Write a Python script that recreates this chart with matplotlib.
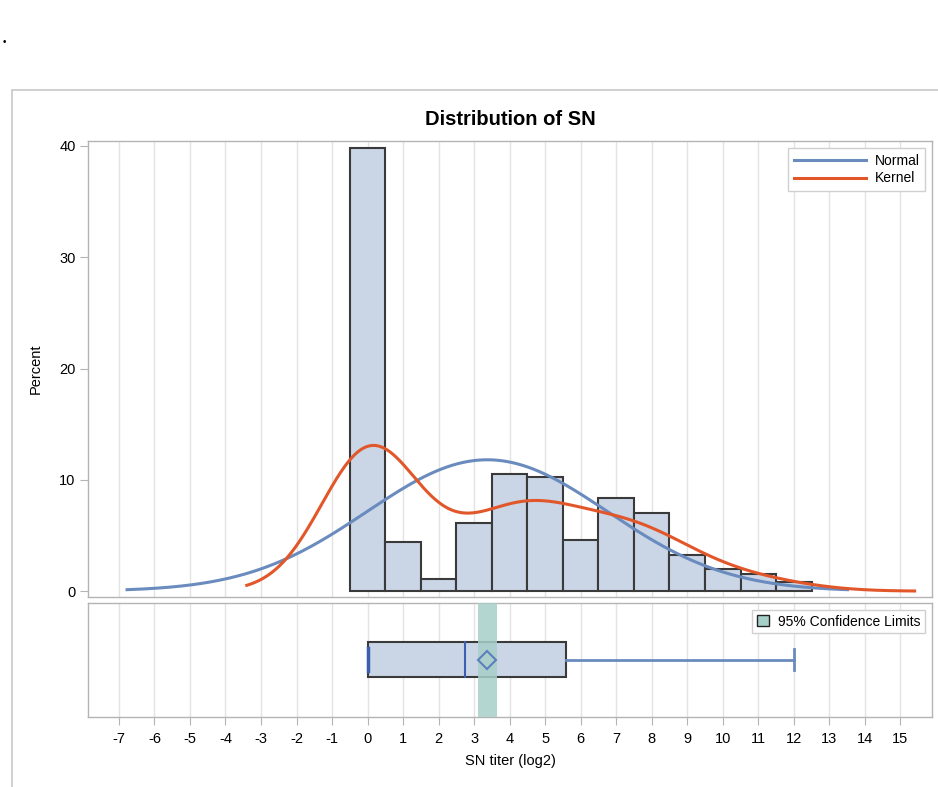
import numpy as np
import matplotlib
matplotlib.use("Agg")
import matplotlib.pyplot as plt
from matplotlib.patches import Rectangle, Patch

# ---------------- data ----------------
bin_centers = [0, 1, 2, 3, 4, 5, 6, 7, 8, 9, 10, 11, 12]
bin_percent = [39.8, 4.4, 1.1, 6.1, 10.5, 10.3, 4.55, 8.4, 7.05, 3.25, 1.95, 1.5, 0.8]
bin_width = 1.0

normal_mean = 3.37
normal_sd = 3.38
kernel_bw = 1.36

box_min = 0.0
box_q1 = 0.0
box_median = 2.75
box_q3 = 5.58
box_max = 12.0
box_mean = 3.37
ci_low, ci_high = 3.10, 3.65

x_ticks = list(range(-7, 16))
y_ticks = [0, 10, 20, 30, 40]

title = "Distribution of SN"
xlabel = "SN titer (log2)"
ylabel = "Percent"

# ---------------- style ----------------
W, H = 938, 787
DPI = 100
FONT = ["Liberation Sans", "DejaVu Sans"]
plt.rcParams["font.family"] = FONT
plt.rcParams["axes.unicode_minus"] = False
SPINE = "#b4b4b4"
GRID = "#e3e3e3"
BAR_FILL = "#cad5e6"
BAR_EDGE = "#3a3a3a"
BLUE = "#6a8bbd"
ORANGE = "#e2572a"
BAND = "#a7cfc9"
DARKBLUE = "#3c5fb0"

fig = plt.figure(figsize=(W / DPI, H / DPI), dpi=DPI)

def px_axes(left, top, right, bottom):
    return fig.add_axes([left / W, (H - bottom) / H, (right - left) / W, (bottom - top) / H])

# outer frame
fig.patches.append(Rectangle((12 / W, -0.1), 1.2, (H - 90) / H + 0.1,
                             transform=fig.transFigure, fill=False,
                             edgecolor="#c8c8c8", linewidth=1.2))
fig.text(3 / W, (H - 42) / H, "\u2022", fontsize=7, color="black", ha="left", va="center")

xlim = (-7.87, 15.89)

ax = px_axes(88, 141.5, 932, 596.7)
axb = px_axes(88, 602.7, 932, 716.7)

for a in (ax, axb):
    a.set_xlim(*xlim)
    for s in a.spines.values():
        s.set_color(SPINE)
        s.set_linewidth(1.0)
    a.set_xticks(x_ticks)
    a.grid(axis="x", color=GRID, linewidth=1.0, zorder=0)
    a.set_axisbelow(True)

# ---------- top panel: histogram ----------
ax.set_ylim(-0.5, 40.4)
ax.bar(bin_centers, bin_percent, width=bin_width, color=BAR_FILL,
       edgecolor=BAR_EDGE, linewidth=1.5, zorder=2)

xs_n = np.linspace(normal_mean - 3 * normal_sd, normal_mean + 3 * normal_sd, 400)
ys_n = 100 * bin_width / (normal_sd * np.sqrt(2 * np.pi)) * np.exp(-0.5 * ((xs_n - normal_mean) / normal_sd) ** 2)

centers = np.array(bin_centers, float)
weights = np.array(bin_percent, float)
xs_k = np.linspace(centers.min() - 2.5 * kernel_bw, centers.max() + 2.5 * kernel_bw, 500)
zk = (xs_k[:, None] - centers[None, :]) / kernel_bw
ys_k = (weights[None, :] * np.exp(-0.5 * zk ** 2) / np.sqrt(2 * np.pi)).sum(axis=1) / kernel_bw * bin_width
ys_k = ys_k * 100 / weights.sum()

ax.plot(xs_n, ys_n, color=BLUE, linewidth=2.2, zorder=3, label="Normal")
ax.plot(xs_k, ys_k, color=ORANGE, linewidth=2.2, zorder=4, label="Kernel")

ax.set_yticks(y_ticks)
ax.tick_params(axis="y", direction="out", length=6, color=SPINE, labelsize=10.5, pad=3)
ax.tick_params(axis="x", bottom=False, labelbottom=False)
ax.set_ylabel(ylabel, fontsize=10.5, labelpad=12)
ax.set_title(title, fontsize=14.5, fontweight="bold", pad=12)

leg = ax.legend(loc="upper right", fontsize=10, handlelength=5.2, handletextpad=0.6,
                borderaxespad=0.5, borderpad=0.4, labelspacing=0.25, fancybox=False,
                frameon=True, framealpha=1)
leg.get_frame().set_edgecolor("#d0d0d0")
leg.get_frame().set_linewidth(1.0)

# ---------- lower panel: box plot ----------
axb.set_ylim(0, 1)
axb.set_yticks([])
yc = 0.5
bh = 0.307
axb.add_patch(Rectangle((box_q1, yc - bh / 2), box_q3 - box_q1, bh, facecolor=BAR_FILL,
                        edgecolor=BAR_EDGE, linewidth=1.5, zorder=2))
axb.plot([box_median, box_median], [yc - bh / 2, yc + bh / 2], color=DARKBLUE, linewidth=1.5, zorder=3)
axb.plot([box_q3, box_max], [yc, yc], color=BLUE, linewidth=2, zorder=3)
axb.plot([box_max, box_max], [yc - 0.09, yc + 0.09], color=BLUE, linewidth=2, zorder=3)
axb.plot([box_min, box_min], [yc - 0.1, yc + 0.1], color=DARKBLUE, linewidth=2.5, zorder=3)
axb.axvspan(ci_low, ci_high, color=BAND, alpha=0.85, linewidth=0, zorder=4)
axb.plot([box_mean], [yc], marker="D", markersize=9, markerfacecolor="none",
         markeredgecolor="#5b80bb", markeredgewidth=1.5, zorder=5)

axb.tick_params(axis="x", direction="out", length=6, color=SPINE, labelsize=10.5, pad=5)
axb.set_xlabel(xlabel, fontsize=10.5, labelpad=6)

legb = axb.legend(handles=[Patch(facecolor=BAND, edgecolor="#222222", linewidth=1.0,
                                 label="95% Confidence Limits")],
                  loc="upper right", fontsize=10, handlelength=0.9, handleheight=0.9,
                  handletextpad=0.6, borderaxespad=0.5, borderpad=0.35, fancybox=False,
                  framealpha=1)
legb.get_frame().set_edgecolor("#d0d0d0")
legb.get_frame().set_linewidth(1.0)

fig.savefig("out.png", dpi=DPI)
